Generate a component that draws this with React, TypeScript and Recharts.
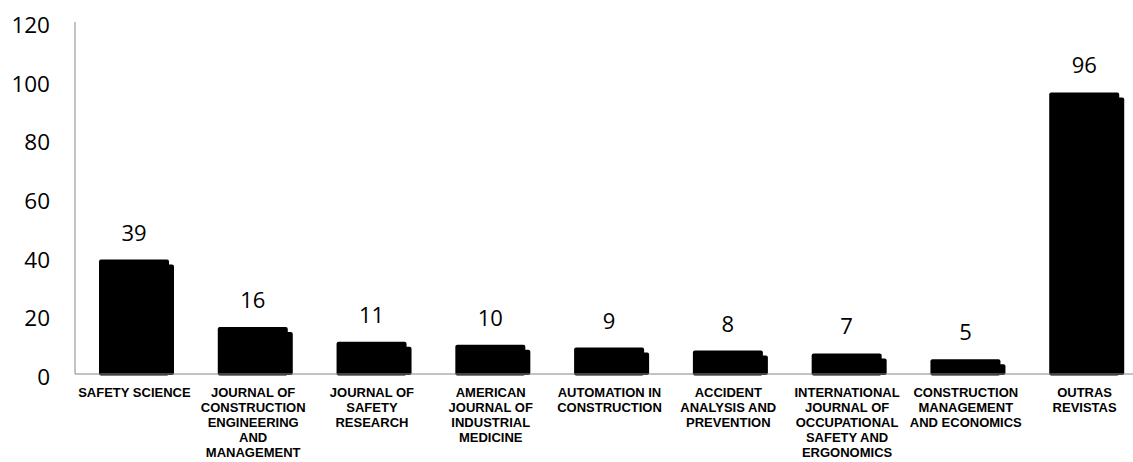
import React from "react";
import { BarChart, Bar, XAxis, YAxis, LabelList } from "recharts";

const categories = [
  "SAFETY SCIENCE",
  "JOURNAL OF CONSTRUCTION ENGINEERING AND MANAGEMENT",
  "JOURNAL OF SAFETY RESEARCH",
  "AMERICAN JOURNAL OF INDUSTRIAL MEDICINE",
  "AUTOMATION IN CONSTRUCTION",
  "ACCIDENT ANALYSIS AND PREVENTION",
  "INTERNATIONAL JOURNAL OF OCCUPATIONAL SAFETY AND ERGONOMICS",
  "CONSTRUCTION MANAGEMENT AND ECONOMICS",
  "OUTRAS REVISTAS",
];

const categoryLines: string[][] = [
  ["SAFETY SCIENCE"],
  ["JOURNAL OF", "CONSTRUCTION", "ENGINEERING", "AND", "MANAGEMENT"],
  ["JOURNAL OF", "SAFETY", "RESEARCH"],
  ["AMERICAN", "JOURNAL OF", "INDUSTRIAL", "MEDICINE"],
  ["AUTOMATION IN", "CONSTRUCTION"],
  ["ACCIDENT", "ANALYSIS AND", "PREVENTION"],
  ["INTERNATIONAL", "JOURNAL OF", "OCCUPATIONAL", "SAFETY AND", "ERGONOMICS"],
  ["CONSTRUCTION", "MANAGEMENT", "AND ECONOMICS"],
  ["OUTRAS", "REVISTAS"],
];

const values = [39, 16, 11, 10, 9, 8, 7, 5, 96];

const yTicks = [0, 20, 40, 60, 80, 100, 120];

const data = categories.map((c, i) => ({ name: c, value: values[i], idx: i }));

const ShadowBar = (props: any) => {
  const { x, y, width, height } = props;
  if (!height || height <= 0) return null;
  return (
    <g>
      <rect x={x + 5} y={y + 5} width={width} height={Math.max(0, height - 4)} fill="#000" rx={2} />
      <rect x={x} y={y} width={width} height={height + 1.5} fill="#000" rx={2} />
    </g>
  );
};

const CategoryTick = (props: any) => {
  const { x, y, index } = props;
  const lines = categoryLines[index] || [];
  return (
    <text
      x={x}
      y={y}
      textAnchor="middle"
      fontFamily="'Liberation Sans', Arial, sans-serif"
      fontWeight="bold"
      fontSize={13}
      fill="#000"
    >
      {lines.map((l, i) => (
        <tspan key={i} x={x} y={y + 20.5 + i * 15.2}>
          {l}
        </tspan>
      ))}
    </text>
  );
};

export default function App() {
  return (
    <div style={{ position: "absolute", left: 0, top: 0, width: 1133, height: 462, overflow: "hidden", background: "#fff" }}>
      <BarChart
        width={1144}
        height={462}
        data={data}
        margin={{ top: 22, right: 0, bottom: 0, left: 0 }}
        barSize={70}
      >
        <YAxis
          domain={[0, 120]}
          ticks={yTicks}
          width={75}
          tickLine={false}
          tickSize={0}
          tickMargin={25}
          axisLine={{ stroke: "#868686", strokeWidth: 1 }}
          tick={{ fill: "#000", fontSize: 22.5, fontFamily: "'Open Sans', sans-serif", dy: 3 }}
          interval={0}
        />
        <XAxis
          dataKey="name"
          height={88}
          tickLine={false}
          tickSize={0}
          axisLine={{ stroke: "#868686", strokeWidth: 1 }}
          interval={0}
          tick={<CategoryTick />}
        />
        <Bar dataKey="value" fill="#000" shape={<ShadowBar />} isAnimationActive={false}>
          <LabelList
            dataKey="value"
            position="top"
            offset={19}
            fill="#000"
            fontSize={22}
            fontFamily="'Open Sans', sans-serif"
          />
        </Bar>
      </BarChart>
    </div>
  );
}
